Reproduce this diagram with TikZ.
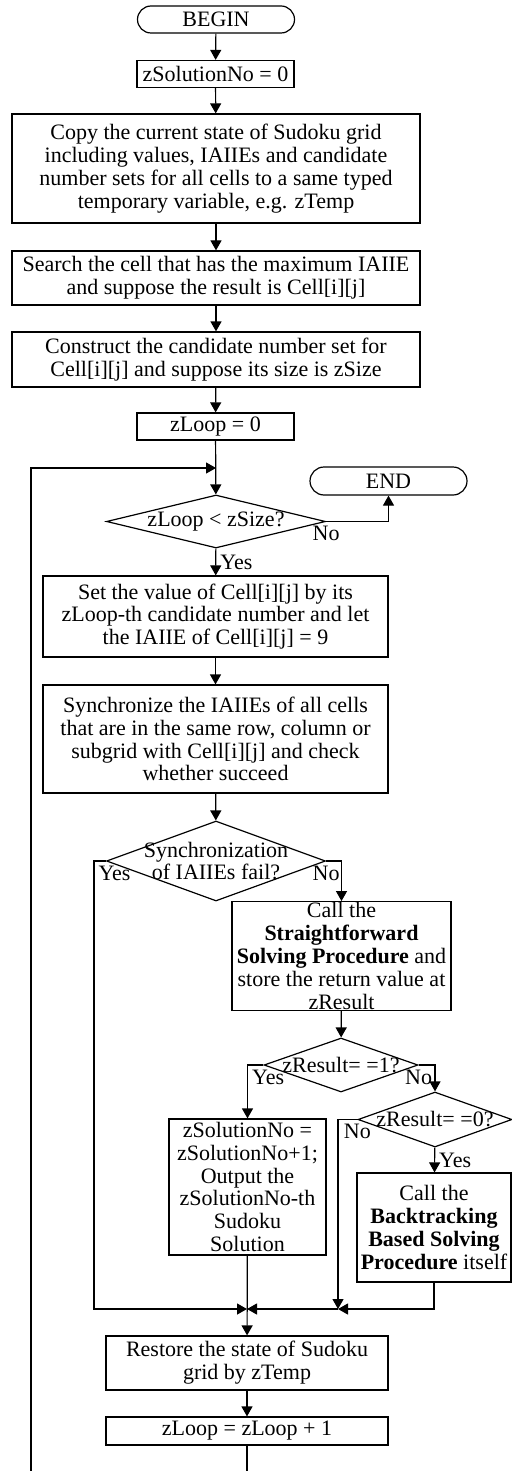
\documentclass[tikz,border=0pt]{standalone}
\usepackage{fontspec}
\setmainfont{Liberation Serif}
\usetikzlibrary{shapes.geometric,shapes.misc,arrows.meta}

\begin{document}
\begin{tikzpicture}[x=0.5pt,y=-0.5pt,
    every node/.style={font=\fontsize{11}{11.4}\selectfont},
    term/.style={rounded rectangle,draw,line width=0.6pt,minimum width=78.5pt,minimum height=13.5pt,inner sep=0pt},
    proc/.style={rectangle,draw,line width=0.6pt,align=center,inner xsep=1pt,inner ysep=0.5pt},
    decision/.style={diamond,draw,line width=0.6pt,inner sep=0pt},
    tag/.style={inner sep=2pt}]
      \useasboundingbox (0,0) rectangle (512,1471);
      % main column
      \node[term] (1) at (216,19.5) {BEGIN};
      \node[proc,minimum width=78.5pt,minimum height=13.5pt] (2) at (215.5,74) {zSolutionNo = 0};
      \node[proc,minimum width=204pt,minimum height=54.5pt] (3) at (216,168.5)
        {Copy the current state of Sudoku grid\\including values, IAIIEs and candidate\\number sets for all cells to a same typed\\temporary variable, e.g. zTemp};
      \node[proc,minimum width=204pt,minimum height=27pt] (4) at (216,278)
        {Search the cell that has the maximum IAIIE\\and suppose the result is Cell[i][j]};
      \node[proc,minimum width=204pt,minimum height=27.5pt] (5) at (216,359.5)
        {Construct the candidate number set for\\Cell[i][j] and suppose its size is zSize};
      \node[proc,minimum width=78.5pt,minimum height=13.5pt] (6) at (215.5,426.5) {zLoop = 0};
      \node[decision,minimum width=109.5pt,minimum height=26.5pt,label=center:{zLoop < zSize?}] (7) at (216,521.5) {};
      \node[term,minimum height=14pt] (8) at (388.5,481) {END};
      \node[proc,minimum width=172.5pt,minimum height=40.5pt] (9) at (215.5,616.5)
        {Set the value of Cell[i][j] by its\\zLoop-th candidate number and let\\the IAIIE of Cell[i][j] = 9};
      \node[proc,minimum width=172.5pt,minimum height=54pt] (10) at (215.5,739)
        {Synchronize the IAIIEs of all cells\\that are in the same row, column or\\subgrid with Cell[i][j] and check\\whether succeed};
      \node[decision,minimum width=109.5pt,minimum height=40pt,
        label={[align=center]center:Synchronization\\of IAIIEs fail?}] (11) at (216,861) {};
      % right branch
      \node[proc,minimum width=109.5pt,minimum height=54pt] (12) at (341.5,956)
        {Call the\\\textbf{Straightforward}\\\textbf{Solving Procedure} and\\store the return value at\\zResult};
      \node[decision,minimum width=77pt,minimum height=27pt,label=center:{zResult= =1?}] (13) at (341,1065) {};
      \node[proc,minimum width=78.5pt,minimum height=68pt] (14) at (247.5,1187)
        {zSolutionNo =\\zSolutionNo+1;\\Output the\\zSolutionNo-th\\Sudoku\\Solution};
      \node[decision,minimum width=77pt,minimum height=27.5pt,label=center:{zResult= =0?}] (15) at (435,1119.5) {};
      \node[proc,minimum width=77pt,minimum height=54.5pt] (16) at (434,1227.5)
        {Call the\\\textbf{Backtracking}\\\textbf{Based Solving}\\\textbf{Procedure} itself};
      % closing part of the loop
      \node[proc,minimum width=141pt,minimum height=27pt] (17) at (247,1363)
        {Restore the state of Sudoku\\grid by zTemp};
      \node[proc,minimum width=141pt,minimum height=14pt] (18) at (247,1431) {zLoop = zLoop + 1};

      \coordinate (a) at (216,468);
      \coordinate (b) at (247,1309);
      \coordinate (c) at (338,1309);
      \coordinate (d) at (31,1490);

      \begin{scope}[every edge/.style={draw,line width=0.6pt,-{Triangle[length=5pt,width=5.5pt]}}]
        \path (1) edge (2);
        \path (2) edge (3);
        \path (3) edge (4);
        \path (4) edge (5);
        \path (5) edge (6);
        \path (6) edge (7);
        \path (7) edge node[tag,right] {Yes} (9);
        \path (9) edge (10);
        \path (10) edge (11);
        \path (12) edge (13);
        \path (15) edge node[tag,right] {Yes} (16);
        \path (c) edge (b);
        \path (14) edge (17);
        \path (17) edge (18);
      \end{scope}
      \begin{scope}[line width=0.6pt,-{Triangle[length=5pt,width=5.5pt]}]
        \draw (7.east) node[tag,below] {No} -| (8.south);
        \draw (11.west) -- ++(-12,0) node[tag,below right] {Yes} |- (b);
        \draw (11.east) node[tag,below] {No} -| (12.north);
        \draw (13.west) -| node[tag,below right] {Yes} (14.north);
        \draw (13.east) node[tag,below] {No} -| (15.north);
        \draw (15.west) node[tag,below] {No} -| (c);
        \draw (16.south) |- (c);
        \draw (18.south) |- (d) |- (a);
      \end{scope}
    \end{tikzpicture}
\end{document}
